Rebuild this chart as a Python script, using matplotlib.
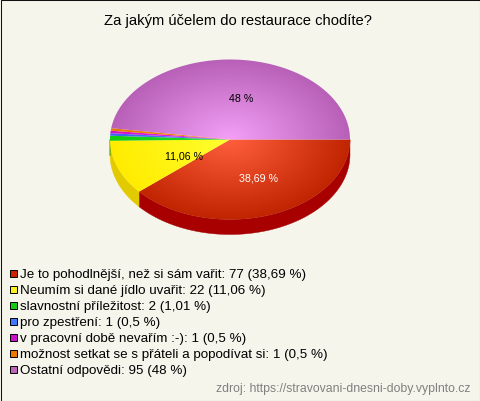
import numpy as np
import matplotlib
matplotlib.use('Agg')
import matplotlib.pyplot as plt
from matplotlib.patches import Polygon, Rectangle

plt.rcParams['font.family'] = ['Liberation Sans', 'DejaVu Sans']

title = 'Za jakým účelem do restaurace chodíte?'
source = 'zdroj: https://stravovani-dnesni-doby.vyplnto.cz'

# Answers and counts from the survey
labels = ['Je to pohodlnější, než si sám vařit', 'Neumím si dané jídlo uvařit',
          'slavnostní příležitost', 'pro zpestření', 'v pracovní době nevařím :-)',
          'možnost setkat se s přáteli a popodívat si', 'Ostatní odpovědi']
counts = [77, 22, 2, 1, 1, 1, 95]
percents = ['38,69', '11,06', '1,01', '0,5', '0,5', '0,5', '48']

# Colours: centre of the gradient, rim of the gradient, side of the pie, legend box
inner = ['#ff5f3c', '#ffff30', '#28e028', '#5a82ff', '#f028f0', '#fa9614', '#f4a0f8']
outer = ['#c02400', '#ffec00', '#10cc10', '#3c64f0', '#d010d0', '#e67800', '#b860b8']
side = ['#a80000', '#e2ca00', '#0c960c', '#2d4bb4', '#960c96', '#ad5a00', '#874687']
boxes = ['#cc2200', '#ffee22', '#11cc11', '#4477ff', '#cc11cc', '#ee7700', '#bb66bb']

bg = '#f5f5ec'
cx, cy, rx, ry, depth = 230, 140.5, 120, 80, 15

fig = plt.figure(figsize=(4.8, 4.02), dpi=100, facecolor=bg)
ax = fig.add_axes([0, 0, 1, 1])
ax.set_xlim(0, 480)
ax.set_ylim(402, 0)
ax.axis('off')

# Slice angles go clockwise on screen from the right hand side
edges = np.cumsum([0] + counts) / sum(counts) * 2 * np.pi


def arc(a, b, shift=0):
    t = np.linspace(a, b, max(int((b - a) * 60), 3))
    return np.column_stack([cx + rx * np.cos(t), cy + shift + ry * np.sin(t)])


# Side of the pie, only the front half can be seen
for i in range(len(counts)):
    a, b = edges[i], min(edges[i + 1], np.pi)
    if a < b:
        top = arc(a, b)
        low = arc(a, b, depth)
        ax.add_patch(Polygon(np.vstack([top, low[::-1]]), fc=side[i], ec=side[i], lw=0.3))

# Radial gradient for the top face, clipped to every slice
xx, yy = np.meshgrid(np.arange(cx - rx - 2, cx + rx + 2, 0.5), np.arange(cy - ry - 2, cy + ry + 2, 0.5))
dist = np.clip(np.sqrt(((xx - cx) / rx) ** 2 + ((yy - cy) / ry) ** 2), 0, 1)
extent = [xx.min(), xx.max(), yy.max(), yy.min()]
for i in range(len(counts)):
    c0 = np.array(matplotlib.colors.to_rgb(inner[i]))
    c1 = np.array(matplotlib.colors.to_rgb(outer[i]))
    img = c0 + (c1 - c0) * dist[..., None]
    im = ax.imshow(img, extent=extent, aspect='auto', interpolation='bilinear', zorder=2)
    verts = np.vstack([[cx, cy], arc(edges[i], edges[i + 1])])
    poly = Polygon(verts, fc='none', ec='none', transform=ax.transData)
    ax.add_patch(poly)
    im.set_clip_path(poly)
ax.set_xlim(0, 480)
ax.set_ylim(402, 0)

ax.text(241.5, 99.5, percents[6] + ' %', ha='center', va='center', fontsize=7.7, color='black', zorder=3)
ax.text(184, 156.5, percents[1] + ' %', ha='center', va='center', fontsize=7.7, color='black', zorder=3)
ax.text(258.5, 178.5, percents[0] + ' %', ha='center', va='center', fontsize=7.7, color='white', zorder=3)

ax.text(238, 21, title, ha='center', va='center', fontsize=10.6, color='black')

# Legend
for i, name in enumerate(labels):
    y = 278.5 + i * 16
    ax.add_patch(Rectangle((9.5, y - 7.5), 7, 7, fc=boxes[i], ec='black', lw=0.7, zorder=3))
    ax.text(20, y, f'{name}: {counts[i]} ({percents[i]} %)', ha='left', va='baseline',
            fontsize=9.65, color='black')

ax.text(470, 389.5, source, ha='right', va='center', fontsize=8.8, color='#808080')

# Thin dark frame
ax.add_patch(Rectangle((0.5, 0.5), 479, 401, fc='none', ec='#111111', lw=0.75, zorder=5))

fig.savefig('out.png', dpi=100, facecolor=bg)
